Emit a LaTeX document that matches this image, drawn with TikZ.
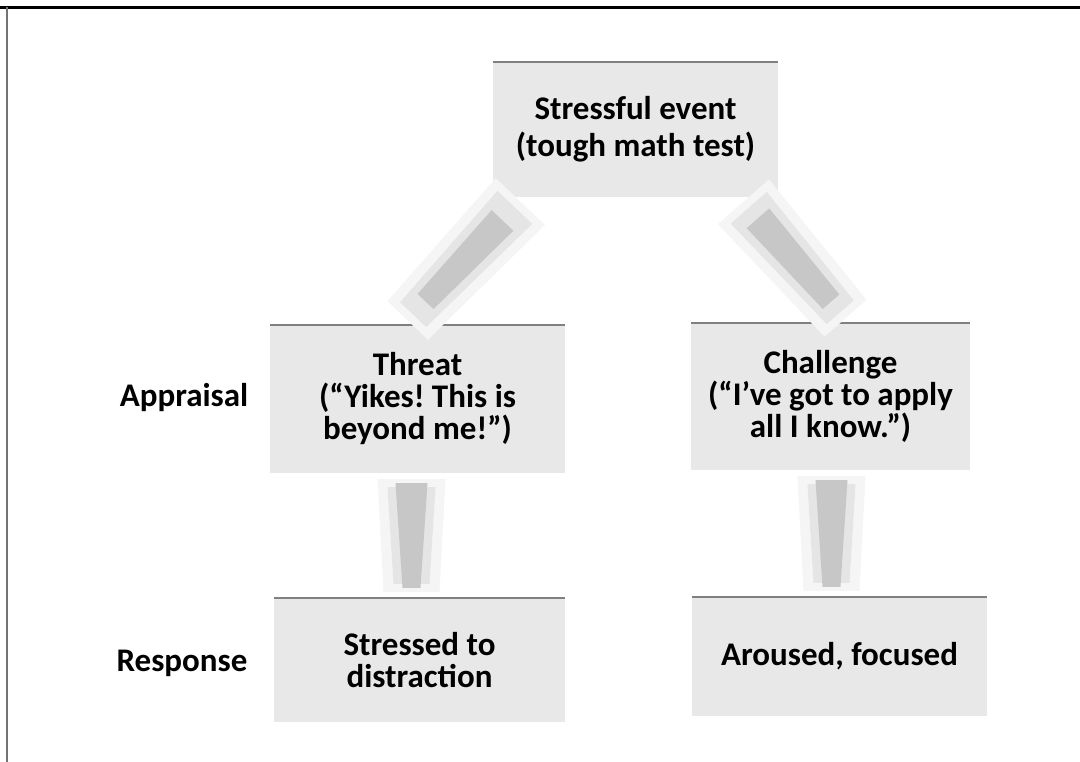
\documentclass[tikz,border=0pt]{standalone}
\usepackage{fontspec}
\setmainfont{Carlito}
\frenchspacing
\usetikzlibrary{calc}
\tikzset{
  box/.style={fill=black!9, inner sep=0pt, align=center, font=\bfseries\fontsize{33}{32}\selectfont},
  topbox/.style={box, font=\bfseries\fontsize{33}{37}\selectfont},
  sidelabel/.style={inner sep=0pt, font=\bfseries\fontsize{33}{32}\selectfont},
  topedge/.style={draw=black!50, line width=2pt},
  haloA/.style={fill=black!4},
  haloB/.style={fill=black!10},
  core/.style={fill=black!22},
}
\newcommand{\taperarrow}[5]{%
  \fill[#5] ($(#1)!#3!90:(#2)$) -- ($(#1)!#3!-90:(#2)$) -- ($(#2)!#4!90:(#1)$) -- ($(#2)!#4!-90:(#1)$) -- cycle;}
\begin{document}
\begin{tikzpicture}[x=1pt,y=-1pt]
\useasboundingbox (0,0) rectangle (1080,762);
% frame lines
\draw[black, line width=3pt] (0,7.5) -- (1080,7.5);
\draw[black!55, line width=1.5pt] (7,7) -- (7,762);

% boxes
\node[topbox, minimum width=285pt, minimum height=135pt] (top) at (635.5,129.5) {Stressful event\\(tough math test)};
\node[box, minimum width=295pt, minimum height=148pt] (threat) at (417.5,399) {Threat\\(``Yikes! This is\\beyond me!'')};
\node[box, minimum width=279pt, minimum height=147pt] (chal) at (830.5,396.5) {Challenge\\(``I've got to apply\\all I know.'')};
\node[box, minimum width=291pt, minimum height=124pt] (resp1) at (419.5,660) {Stressed to\\distraction};
\node[box, minimum width=295pt, minimum height=119pt] (resp2) at (839.5,656.5) {Aroused, focused};
\foreach \n in {top,threat,chal,resp1,resp2}
  \draw[topedge] (\n.north west) -- (\n.north east);

% side labels
\node[sidelabel] (appr) at (184,398) {Appraisal};
\node[sidelabel] (resp) at (182,663) {Response};

% arrows
\coordinate (a1s) at ([xshift=-111pt]top.south);
\coordinate (a1e) at ([xshift=-14pt]threat.north);
\coordinate (a2s) at ([xshift=104pt]top.south);
\coordinate (a2e) at ([xshift=19pt]chal.north);
\coordinate (a3s) at ([xshift=-6pt]threat.south);
\coordinate (a3e) at ([xshift=-8pt]resp1.north);
\coordinate (a4s) at ([xshift=1pt]chal.south);
\coordinate (a4e) at ([xshift=-8pt]resp2.north);

\foreach \a/\c in {a1/32pt,a2/28pt,a3/10pt,a4/10pt}{
  \coordinate (\a hs) at ($(\a s)!6pt!(\a e)$);
  \coordinate (\a he) at ($(\a e)!6pt!(\a s)$);
  \coordinate (\a ms) at ($(\a s)!14pt!(\a e)$);
  \coordinate (\a me) at ($(\a e)!14pt!(\a s)$);
  \coordinate (\a cs) at ($(\a s)!\c!(\a e)$);
  \coordinate (\a ce) at ($(\a e)!\c!(\a s)$);
}
\foreach \a in {a1,a2}{
  \taperarrow{\a hs}{\a he}{34pt}{28pt}{haloA}
  \taperarrow{\a ms}{\a me}{24pt}{18pt}{haloB}
  \taperarrow{\a cs}{\a ce}{15pt}{11pt}{core}
}
\foreach \a in {a3,a4}{
  \taperarrow{\a hs}{\a he}{34pt}{28pt}{haloA}
  \taperarrow{\a ms}{\a me}{24pt}{18pt}{haloB}
  \taperarrow{\a cs}{\a ce}{16pt}{9pt}{core}
}
\end{tikzpicture}
\end{document}
